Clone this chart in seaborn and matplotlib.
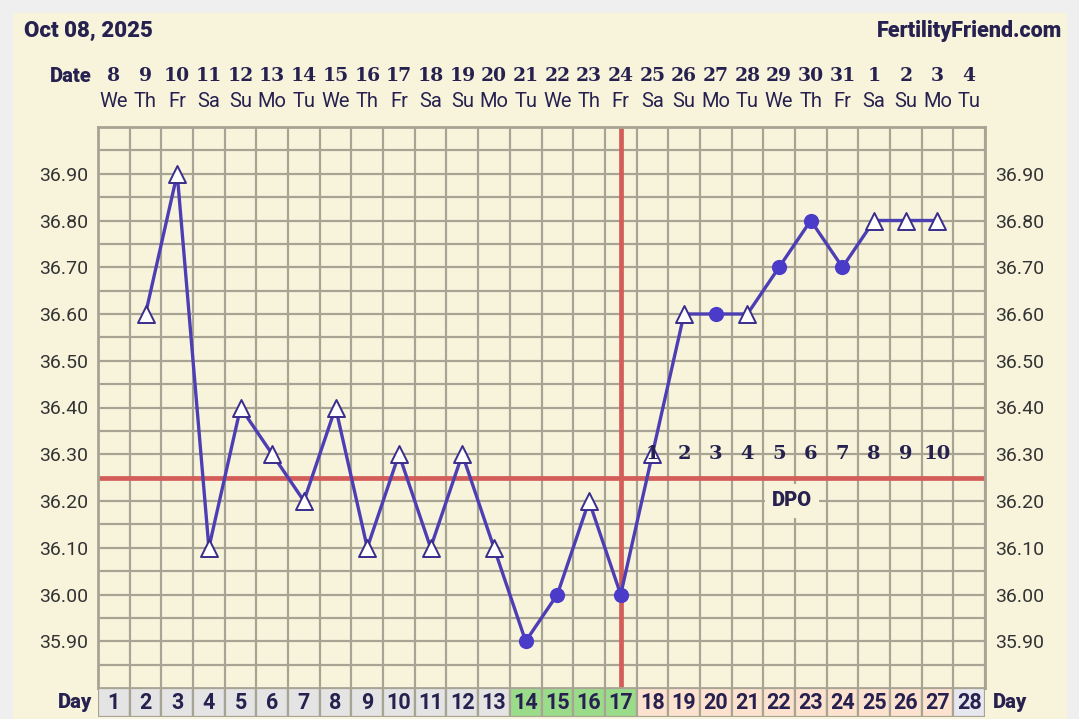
import numpy as np
import pandas as pd
import matplotlib
matplotlib.use('Agg')
import matplotlib.pyplot as plt
import seaborn as sns

# cycle data
days = list(range(1, 29))
dates = [8, 9, 10, 11, 12, 13, 14, 15, 16, 17, 18, 19, 20, 21, 22, 23, 24,
         25, 26, 27, 28, 29, 30, 31, 1, 2, 3, 4]
weekdays = ['We', 'Th', 'Fr', 'Sa', 'Su', 'Mo', 'Tu'] * 4
temps = [np.nan, 36.60, 36.90, 36.10, 36.40, 36.30, 36.20, 36.40, 36.10, 36.30,
         36.10, 36.30, 36.10, 35.90, 36.00, 36.20, 36.00, 36.30, 36.60, 36.60,
         36.60, 36.70, 36.80, 36.70, 36.80, 36.80, 36.80, np.nan]
kinds = ['', 'tri', 'tri', 'tri', 'tri', 'tri', 'tri', 'tri', 'tri', 'tri',
         'tri', 'tri', 'tri', 'dot', 'dot', 'tri', 'dot', 'tri', 'tri', 'dot',
         'tri', 'dot', 'dot', 'dot', 'tri', 'tri', 'tri', '']
phase = ['pre'] * 13 + ['fertile'] * 4 + ['post'] * 10 + ['none']
ovulation_day = 17
coverline = 36.25
dpo_labels = list(range(1, 11))
dpo_days = list(range(18, 28))
yticks = [35.90, 36.00, 36.10, 36.20, 36.30, 36.40, 36.50, 36.60, 36.70, 36.80, 36.90]

df = pd.DataFrame({'day': days, 'temp': temps, 'kind': kinds})
obs = df.dropna()

cream = '#f8f4dc'
navy = '#272150'
gridc = '#a7a494'
purple = '#4d3fb3'
red = '#d35d58'
phase_col = {'pre': '#e4e4e4', 'fertile': '#9bdc8a', 'post': '#fde3cf', 'none': '#e7e7ef'}

sns.set_style('white')
plt.rcParams['font.family'] = ['Roboto', 'DejaVu Sans']

fig = plt.figure(figsize=(10.79, 7.19), dpi=100, facecolor='#efefef')
fig.patches.append(plt.Rectangle((13 / 1079, 0), 1 - 26 / 1079, 1 - 13 / 719,
                                 transform=fig.transFigure, color=cream, zorder=-10))

ax = fig.add_axes([98 / 1079, 1 - 688 / 719, 887 / 1079, 561 / 719])
ax.set_facecolor(cream)

# grid
ax.set_xlim(0.5, 28.5)
ax.set_ylim(35.80, 37.00)
ax.set_xticks([])
ax.set_xticks(np.arange(0.5, 29, 1), minor=True)
ax.set_yticks(yticks)
ax.set_yticklabels([f'{v:.2f}' for v in yticks])
ax.set_yticks(np.arange(35.85, 37.0, 0.1), minor=True)
ax.grid(True, which='both', color=gridc, lw=1.6, zorder=0)
ax.tick_params(axis='both', which='both', length=0)
ax.tick_params(axis='y', labelleft=True, labelright=True, labelsize=14,
               labelcolor='#333333', pad=7)
for s in ax.spines.values():
    s.set_color(gridc)
    s.set_linewidth(2)

ax.axvline(ovulation_day, color=red, lw=3.4, zorder=1.5)
ax.axhline(coverline, color=red, lw=3.4, zorder=1.5)

sns.lineplot(data=obs, x='day', y='temp', color=purple, lw=2.4, ax=ax, zorder=3)
sns.scatterplot(data=obs[obs.kind == 'dot'], x='day', y='temp', marker='o', s=120,
                color='#4a3bc8', edgecolor='#4a3bc8', linewidth=0, ax=ax, zorder=4)
sns.scatterplot(data=obs[obs.kind == 'tri'], x='day', y='temp', marker='^', s=150,
                color='white', edgecolor='#3a2d8c', linewidth=1.4, ax=ax, zorder=4)
ax.set_xlabel('')
ax.set_ylabel('')

# DPO counts
for d, n in zip(dpo_days, dpo_labels):
    ax.text(d, 36.30, str(n), ha='center', va='center', fontsize=14,
            fontweight='bold', family='DejaVu Serif', color=navy, zorder=5)
ax.text(22.4, 36.20, 'DPO', ha='center', va='center', fontsize=14.5, fontweight='heavy',
        color=navy, zorder=1.2,
        bbox=dict(boxstyle='square,pad=0.35', facecolor=cream, edgecolor='none'))

# date header
tr = ax.get_xaxis_transform()
for d, dt, wd in zip(days, dates, weekdays):
    ax.text(d, 1.091, str(dt), transform=tr, ha='center', va='center', fontsize=13.5,
            fontweight='bold', family='DejaVu Serif', color=navy, clip_on=False)
    ax.text(d, 1.045, wd, transform=tr, ha='center', va='center', fontsize=14.5,
            color=navy, clip_on=False)
fig.text(92 / 1079, 1 - 77 / 719, 'Date', ha='right', va='center', fontsize=14.5,
         fontweight='heavy', color=navy)
fig.text(24 / 1079, 1 - 31 / 719, 'Oct 08, 2025', ha='left', va='center', fontsize=16,
         fontweight='heavy', color=navy)
fig.text(1062 / 1079, 1 - 31 / 719, 'FertilityFriend.com', ha='right', va='center',
         fontsize=15.5, fontweight='heavy', color=navy)

# cycle day row
ax2 = fig.add_axes([98 / 1079, 1 - 717 / 719, 887 / 1079, 29 / 719])
ax2.bar(days, 1, width=1, color=[phase_col[p] for p in phase], edgecolor=gridc, lw=1.6)
ax2.set_xlim(0.5, 28.5)
ax2.set_ylim(0, 1)
ax2.axis('off')
for d in days:
    ax2.text(d, 0.48, str(d), ha='center', va='center', fontsize=15.5, fontweight='bold',
             color=navy)
fig.text(92 / 1079, 1 - 702 / 719, 'Day', ha='right', va='center', fontsize=14.5,
         fontweight='heavy', color=navy)
fig.text(993 / 1079, 1 - 702 / 719, 'Day', ha='left', va='center', fontsize=14.5,
         fontweight='heavy', color=navy)

fig.savefig('out.png', dpi=100, facecolor=fig.get_facecolor())
